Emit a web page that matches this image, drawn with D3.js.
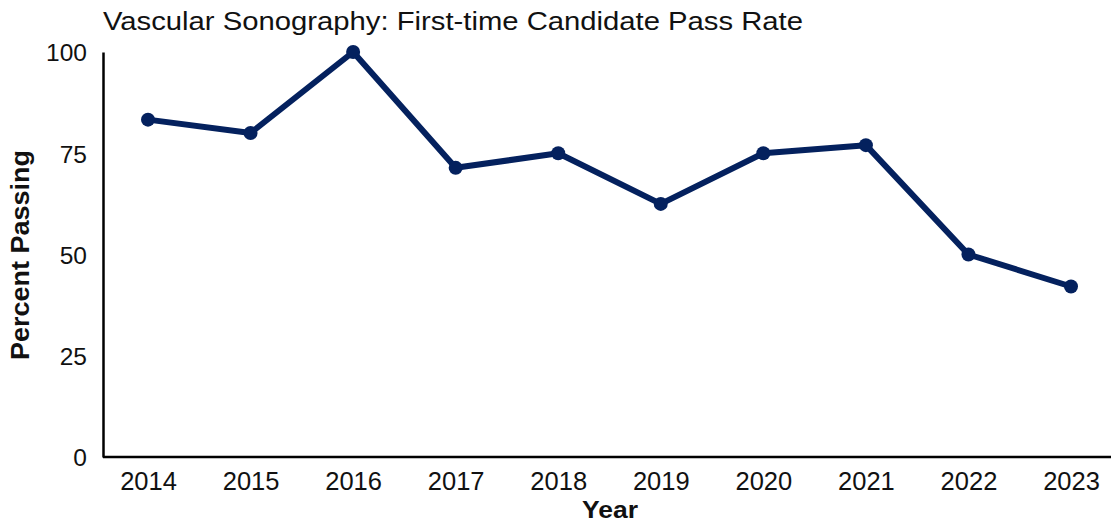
<!DOCTYPE html>
<html>
<head>
<meta charset="utf-8">
<script src="https://cdn.jsdelivr.net/npm/d3@7"></script>
<style>
  html, body { margin: 0; padding: 0; background: #fff; }
  svg { display: block; font-family: "Liberation Sans", Arial, sans-serif; }
</style>
</head>
<body>
<svg id="chart" width="1111" height="525"></svg>
<script>
const years = ["2014","2015","2016","2017","2018","2019","2020","2021","2022","2023"];
const passRates = [83.3, 80, 100, 71.4, 75, 62.5, 75, 77, 50, 42.1];
const yTicks = [0, 25, 50, 75, 100];
const titleText = "Vascular Sonography: First-time Candidate Pass Rate";
const xTitle = "Year";
const yTitle = "Percent Passing";

const svg = d3.select("#chart");
const mLeft = 103, mRight = 1111, mTop = 52, mBottom = 457;
const color = "#04215e";

const x = d3.scalePoint().domain(years).range([148, 1071]);
const y = d3.scaleLinear().domain([0, 100]).range([mBottom, mTop]);

// axes
const yAxis = svg.append("g")
  .attr("transform", `translate(${mLeft},0)`)
  .call(d3.axisLeft(y).tickValues(yTicks).tickSize(0).tickPadding(16));
yAxis.select(".domain").attr("stroke", "#000").attr("stroke-width", 2.5);
yAxis.selectAll("text").attr("font-size", 24.5).attr("fill", "#111")
  .attr("font-family", "Liberation Sans, Arial, sans-serif").attr("dy", "0.36em");

const xAxis = svg.append("g")
  .attr("transform", `translate(0,${mBottom})`)
  .call(d3.axisBottom(x).tickSize(0).tickPadding(15));
xAxis.select(".domain").attr("d", `M${mLeft},0H${mRight}`).attr("stroke", "#000").attr("stroke-width", 2.5);
xAxis.selectAll("text").attr("font-size", 25.5).attr("fill", "#111")
  .attr("font-family", "Liberation Sans, Arial, sans-serif");

// line
const line = d3.line().x((d, i) => x(years[i])).y(d => y(d));
svg.append("path")
  .datum(passRates)
  .attr("d", line)
  .attr("fill", "none")
  .attr("stroke", color)
  .attr("stroke-width", 6)
  .attr("stroke-linejoin", "round");

svg.selectAll("circle.pt")
  .data(passRates)
  .enter().append("circle")
  .attr("class", "pt")
  .attr("cx", (d, i) => x(years[i]))
  .attr("cy", d => y(d))
  .attr("r", 7)
  .attr("fill", color);

// titles
svg.append("text")
  .attr("x", 103).attr("y", 30)
  .attr("font-size", 25)
  .attr("fill", "#111")
  .attr("textLength", 700)
  .attr("lengthAdjust", "spacingAndGlyphs")
  .text(titleText);

svg.append("text")
  .attr("x", 610).attr("y", 518)
  .attr("text-anchor", "middle")
  .attr("font-size", 23.5)
  .attr("font-weight", "bold")
  .attr("fill", "#111")
  .attr("textLength", 56)
  .attr("lengthAdjust", "spacingAndGlyphs")
  .text(xTitle);

svg.append("text")
  .attr("transform", `translate(29,255) rotate(-90)`)
  .attr("text-anchor", "middle")
  .attr("font-size", 25)
  .attr("font-weight", "bold")
  .attr("fill", "#111")
  .attr("textLength", 210)
  .attr("lengthAdjust", "spacingAndGlyphs")
  .text(yTitle);
</script>
</body>
</html>
